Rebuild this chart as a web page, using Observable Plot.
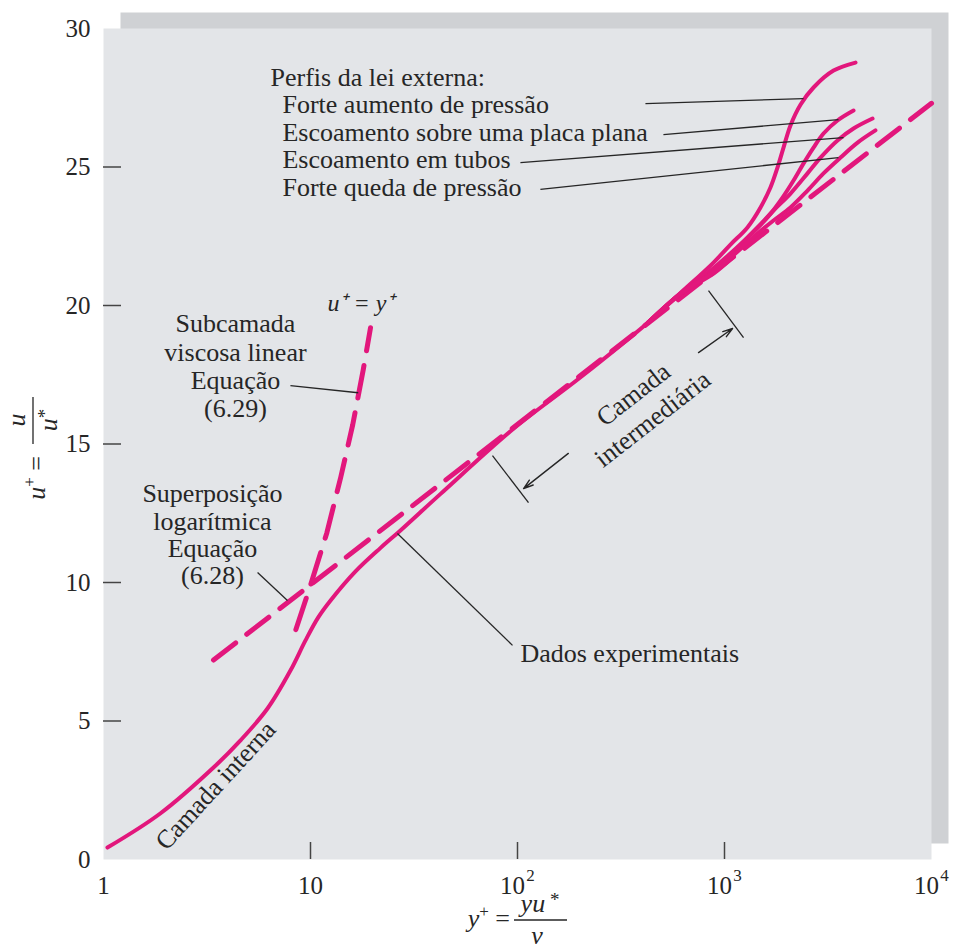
<!DOCTYPE html>
<html>
<head>
<meta charset="utf-8">
<script src="https://cdn.jsdelivr.net/npm/d3@7"></script>
<script src="https://cdn.jsdelivr.net/npm/@observablehq/plot@0.6"></script>
<style>
  body { margin: 0; background: #ffffff; }
  #chart svg { display: block; }
</style>
</head>
<body>
<div id="chart"></div>
<script>
// ---------- data (y+, u+) ----------
const dadosExperimentais = [
  [1.045, 0.43], [1.88, 1.66], [3.4, 3.32], [4.59, 4.3], [6.2, 5.45], [8.0, 6.82],
  [9.46, 7.91], [10.9, 8.74], [12.5, 9.35], [16.5, 10.4], [21.8, 11.25], [27.2, 11.88],
  [42.5, 13.2], [95.6, 15.55], [201, 17.4], [425, 19.37], [613, 20.43], [885, 21.15], [1100, 21.75]
];
const forteAumento = [
  [425, 19.37], [613, 20.45], [885, 21.55], [1069, 22.2], [1291, 22.82], [1493, 23.54],
  [1667, 24.26], [1803, 24.98], [1928, 25.7], [2083, 26.5], [2328, 27.25], [2692, 27.87],
  [3363, 28.48], [4295, 28.77]
];
const placaPlana = [
  [425, 19.37], [613, 20.43], [885, 21.35], [1291, 22.45], [1614, 23.18], [1866, 23.79],
  [2155, 24.51], [2410, 25.13], [2692, 25.7], [3008, 26.21], [3515, 26.68], [4200, 27.04]
];
const tubos = [
  [425, 19.37], [613, 20.43], [885, 21.25], [1443, 22.82], [1725, 23.43], [2083, 24.04],
  [2518, 24.77], [2910, 25.34], [3515, 25.96], [4200, 26.39], [5190, 26.75]
];
const forteQueda = [
  [425, 19.37], [613, 20.43], [885, 21.2], [1443, 22.6], [1725, 23.07], [2083, 23.54],
  [2518, 24.15], [3008, 24.77], [3634, 25.34], [4395, 25.88], [5360, 26.32]
];
const subcamadaViscosa = [ // u+ = y+
  [8.5, 8.3], [10, 9.9], [12, 11.8], [14, 13.8], [16, 15.7], [18, 17.7], [19.5, 19.2]
];
const leiLogaritmica = [[3.4, 7.2], [10000, 27.3]];

// axis ticks
const xTickMarks = [10, 100, 1000];
const xLabelsPlain = [1, 10];
const xLabelsPow = [100, 1000, 10000];
const xExponents = ["2", "3", "4"];
const yTickMarks = [5, 10, 15, 20, 25];
const yLabels = [0, 5, 10, 15, 20, 25, 30];

// annotation texts (anchor positions in data units)
const textosPerfis = [
  {x: 6.41, y: 28.23, t: "Perfis da lei externa:"},
  {x: 7.32, y: 27.26, t: "Forte aumento de pressão"},
  {x: 7.32, y: 26.25, t: "Escoamento sobre uma placa plana"},
  {x: 7.32, y: 25.27, t: "Escoamento em tubos"},
  {x: 7.32, y: 24.26, t: "Forte queda de pressão"}
];
const textosCentro = [
  {x: 4.34, y: 17.82, t: "Subcamada\nviscosa linear\nEquação\n(6.29)"},
  {x: 3.36, y: 11.73, t: "Superposição\nlogarítmica\nEquação\n(6.28)"}
];
const textoDados = [{x: 103.3, y: 7.44, t: "Dados experimentais"}];
const textoUy = [{x: 12.08, y: 20.07, t: "u⁺ = y⁺"}];
const textoInterna = [{x: 3.48, y: 2.67, t: "Camada interna"}];
const textoIntermediaria = [{x: 399, y: 16.39, t: "Camada\nintermediária"}];

const guias = [
  {x1: 415, y1: 27.29, x2: 2410, y2: 27.47},
  {x1: 507, y1: 26.17, x2: 3553, y2: 26.71},
  {x1: 103.3, y1: 25.16, x2: 3758, y2: 26.06},
  {x1: 129, y1: 24.19, x2: 3553, y2: 25.34},
  {x1: 8.0, y1: 17.11, x2: 17.0, y2: 16.85},
  {x1: 5.55, y1: 10.36, x2: 7.74, y2: 9.35},
  {x1: 94.6, y1: 7.73, x2: 26.3, y2: 11.77},
  {x1: 75.7, y1: 14.58, x2: 113, y2: 12.88},
  {x1: 837, y1: 20.54, x2: 1236, y2: 18.84}
];
const setas = [
  {x1: 176, y1: 14.66, x2: 107, y2: 13.39},
  {x1: 749, y1: 18.30, x2: 1094, y2: 19.17}
];

// ---------- styles ----------
const pink = "#e2177c";
const ink = "#262626";
const serif = "'Liberation Serif', 'Times New Roman', serif";
const pt = d => d[0], pu = d => d[1];

const curvaSolida = (data) => Plot.line(data, {
  x: pt, y: pu, stroke: pink, strokeWidth: 4, curve: "catmull-rom", strokeLinecap: "round"
});

const chart = Plot.plot({
  width: 956,
  height: 949,
  marginLeft: 103,
  marginRight: 25,
  marginTop: 28,
  marginBottom: 90,
  style: {fontFamily: serif, fontSize: "26px", color: ink, background: "transparent"},
  x: {type: "log", domain: [1, 10000]},
  y: {domain: [0, 30]},
  marks: [
    Plot.frame({fill: "#cfd1d4", stroke: null, dx: 17, dy: -16}),
    Plot.frame({fill: "#e3e5e8", stroke: null}),
    // ticks inside the panel
    Plot.axisY({ticks: yTickMarks, tickSize: 18, dx: 18, tickFormat: () => "", stroke: "#444", strokeWidth: 1.5, label: null}),
    Plot.axisX({ticks: xTickMarks, tickSize: 17, dy: -17, tickFormat: () => "", stroke: "#444", strokeWidth: 1.5, label: null}),
    // tick labels
    Plot.axisY({ticks: yLabels, tickSize: 0, tickPadding: 13, fontSize: 25, fill: ink, label: null}),
    Plot.text(xLabelsPlain, {x: d => d, text: d => String(d), frameAnchor: "bottom", dy: 26, fontSize: 25, fill: ink, lineAnchor: "middle"}),
    Plot.text(xLabelsPow, {x: d => d, text: () => "10", frameAnchor: "bottom", dy: 26, dx: -5, fontSize: 25, fill: ink, lineAnchor: "middle"}),
    Plot.text(xLabelsPow, {x: d => d, text: (d, i) => xExponents[i], frameAnchor: "bottom", dy: 16, dx: 13, fontSize: 17, fill: ink, lineAnchor: "middle"}),
    // dashed laws
    Plot.line(leiLogaritmica, {x: pt, y: pu, stroke: pink, strokeWidth: 5, strokeDasharray: "28,14"}),
    Plot.line(subcamadaViscosa, {x: pt, y: pu, stroke: pink, strokeWidth: 5, strokeDasharray: "33,15"}),
    // solid profiles
    curvaSolida(dadosExperimentais),
    curvaSolida(forteAumento),
    curvaSolida(placaPlana),
    curvaSolida(tubos),
    curvaSolida(forteQueda),
    // leaders and brackets
    Plot.link(guias, {x1: "x1", y1: "y1", x2: "x2", y2: "y2", stroke: ink, strokeWidth: 1.3}),
    Plot.arrow(setas, {x1: "x1", y1: "y1", x2: "x2", y2: "y2", stroke: ink, strokeWidth: 1.4, headLength: 11, headAngle: 35}),
    // annotation texts
    Plot.text(textosPerfis, {x: "x", y: "y", text: "t", textAnchor: "start", lineAnchor: "middle", fontSize: 26, fill: ink}),
    Plot.text(textosCentro.slice(0, 1), {x: "x", y: "y", text: "t", textAnchor: "middle", lineAnchor: "middle", lineHeight: 1.09, fontSize: 26, fill: ink}),
    Plot.text(textosCentro.slice(1), {x: "x", y: "y", text: "t", textAnchor: "middle", lineAnchor: "middle", lineHeight: 1.05, fontSize: 26, fill: ink}),
    Plot.text(textoDados, {x: "x", y: "y", text: "t", textAnchor: "start", lineAnchor: "middle", fontSize: 26, fill: ink}),
    Plot.text(textoUy, {x: "x", y: "y", text: "t", textAnchor: "start", lineAnchor: "middle", fontSize: 24, fontStyle: "italic", fill: ink}),
    Plot.text(textoInterna, {x: "x", y: "y", text: "t", textAnchor: "middle", lineAnchor: "middle", rotate: -47.5, fontSize: 26, fill: ink}),
    Plot.text(textoIntermediaria, {x: "x", y: "y", text: "t", textAnchor: "middle", lineAnchor: "middle", rotate: -38, lineHeight: 1.2, fontSize: 26, fill: ink})
  ]
});

document.getElementById("chart").appendChild(chart);

// ---------- axis titles (fractions) ----------
const svg = d3.select(chart);
const g = svg.append("g").attr("font-family", serif).attr("font-size", 26).attr("fill", ink);
function rich(sel, parts) {
  for (const p of parts) {
    const s = sel.append("tspan").text(p.t);
    if (p.i) s.attr("font-style", "italic");
    if (p.dy) s.attr("dy", p.dy);
    if (p.s) s.attr("font-size", p.s);
  }
  return sel;
}
// x title: y+ = yu*/nu
rich(g.append("text").attr("x", 510).attr("y", 927).attr("text-anchor", "end"),
  [{t: "y", i: true}, {t: "+", dy: -10, s: 17}, {t: " =", dy: 10}]);
g.append("line").attr("x1", 514).attr("x2", 567).attr("y1", 920).attr("y2", 920).attr("stroke", ink).attr("stroke-width", 1.3);
rich(g.append("text").attr("x", 540).attr("y", 912).attr("text-anchor", "middle"),
  [{t: "yu", i: true}, {t: " *", dy: -6, s: 19}]);
rich(g.append("text").attr("x", 537).attr("y", 944).attr("text-anchor", "middle"),
  [{t: "ν", i: true}]);
// y title: u+ = u/u*
rich(g.append("text").attr("transform", "translate(45,456) rotate(-90)").attr("text-anchor", "end"),
  [{t: "u", i: true}, {t: "+", dy: -10, s: 17}, {t: " =", dy: 10}]);
g.append("line").attr("x1", 33).attr("x2", 33).attr("y1", 397).attr("y2", 444).attr("stroke", ink).attr("stroke-width", 1.3);
rich(g.append("text").attr("transform", "translate(25,420) rotate(-90)").attr("text-anchor", "middle"),
  [{t: "u", i: true}]);
rich(g.append("text").attr("transform", "translate(57,420) rotate(-90)").attr("text-anchor", "middle"),
  [{t: "u", i: true}, {t: "*", dy: -6, s: 19}]);
</script>
</body>
</html>
